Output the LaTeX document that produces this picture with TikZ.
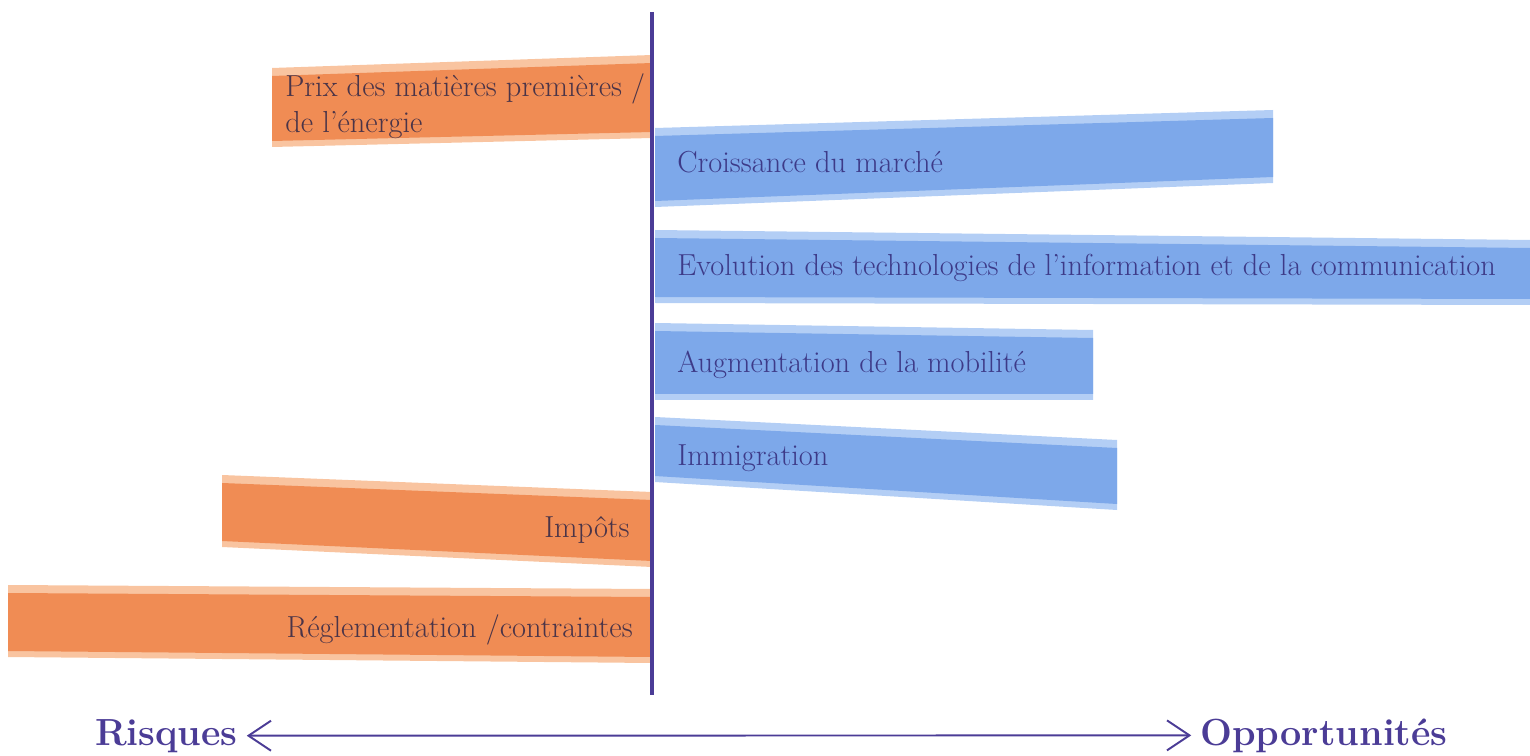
\documentclass[tikz,border=0pt]{standalone}
\usepackage{xcolor}
\usepackage{tikz}
\usetikzlibrary{positioning, arrows.meta}

\definecolor{axisviolet}{HTML}{4B3C96}
\definecolor{riskorange}{HTML}{F08C54}
\definecolor{risklight}{HTML}{F9C4A0}
\definecolor{chanceblue}{HTML}{7DA8EA}
\definecolor{chancelight}{HTML}{B3CEF5}
\definecolor{risktext}{HTML}{4A3448}
\definecolor{chancetext}{HTML}{3D3A88}

\tikzset{
  barlabel/.style={inner sep=0pt, font=\fontsize{17.3}{20.5}\selectfont},
  risklabel/.style={barlabel, text=risktext},
  chancelabel/.style={barlabel, text=chancetext, anchor=west},
  axislabel/.style={inner sep=0pt, text=axisviolet, font=\fontsize{21.5}{25}\selectfont\bfseries},
  axisarrows/.style={{Straight Barb[length=4.5mm, width=6mm]}-{Straight Barb[length=4.5mm, width=6mm]}}
}

\begin{document}
\begin{tikzpicture}[x=0.02cm, y=-0.02cm]
      \useasboundingbox (0,0) rectangle (1530,756);

      % Risk bars (left / left top / right top / right bottom / left bottom)
      \foreach \l/\lt/\rt/\rb/\lb in {272/68/55/138/147, 222/475/492/567/547, 8/585/589/663/657} {
        \fill[risklight] (\l,\lt) -- (652,\rt) -- (652,\rb) -- (\l,\lb) -- cycle;
        \fill[riskorange] (\l,\lt+8) -- (652,\rt+8) -- (652,\rb-6) -- (\l,\lb-6) -- cycle;
      }

      % Opportunity bars (right / left top / right top / right bottom / left bottom)
      \foreach \r/\lt/\rt/\rb/\lb in {1273/128/110/183/207, 1530/230/240/305/303, 1093/323/330/400/400, 1117/417/440/510/482} {
        \fill[chancelight] (655,\lt) -- (\r,\rt) -- (\r,\rb) -- (655,\lb) -- cycle;
        \fill[chanceblue] (655,\lt+8) -- (\r,\rt+8) -- (\r,\rb-6) -- (655,\lb-6) -- cycle;
      }

      % Vertical axis
      \coordinate (axtop) at (652,12);
      \coordinate (axbot) at (652,695);
      \draw[axisviolet, line width=2.2pt] (axtop) -- (axbot);

      % Risk labels
      \node[risklabel, anchor=west, align=left] (prix) at (285,106) {Prix des matières premières /\\de l'énergie};
      \node[risklabel, anchor=east] (impots) at (630,530) {Impôts};
      \node[risklabel, anchor=east] (regl) at (633,630) {Réglementation /contraintes};

      % Opportunity labels
      \node[chancelabel] (marche) at (677,162) {Croissance du marché};
      \node[chancelabel] (tic) at (677,268) {Evolution des technologies de l'information et de la communication};
      \node[chancelabel] (mobil) at (677,365) {Augmentation de la mobilité};
      \node[chancelabel] (immig) at (677,458) {Immigration};

      % Horizontal axis
      \node[axislabel, anchor=base east] (risques) at (238,745) {Risques};
      \node[axislabel, anchor=base west] (opport) at (1200,745) {Opportunités};
      \draw[axisarrows, axisviolet, line width=1.1pt, shorten <=5pt, shorten >=5pt] (risques.east) -- (opport.west);
    \end{tikzpicture}
\end{document}
